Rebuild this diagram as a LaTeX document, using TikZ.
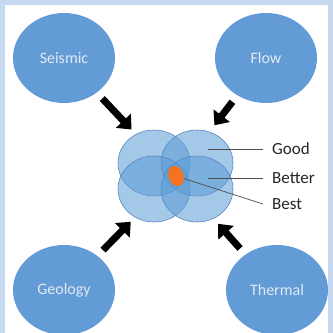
\documentclass[tikz,border=0pt]{standalone}
\usepackage{fontspec}
\setmainfont{Carlito}
\usetikzlibrary{arrows.meta,shapes.geometric}

\definecolor{frameblue}{RGB}{198,217,241}
\definecolor{discblue}{RGB}{98,155,213}
\definecolor{lobeblue}{RGB}{91,155,213}
\definecolor{lobeline}{RGB}{85,135,195}
\definecolor{blobfill}{RGB}{243,115,32}

\begin{document}
\begin{tikzpicture}[x=1pt,y=-1pt,
    disc/.style={ellipse, fill=discblue, minimum width=102pt, minimum height=90pt, inner sep=0pt,
      text={rgb,255:red,226;green,233;blue,242}, font=\fontsize{16}{19}\selectfont},
    lobe/.style={ellipse, draw=lobeline, line width=.6pt, fill=lobeblue, fill opacity=.55,
      minimum width=72pt, minimum height=66pt, inner sep=0pt},
    fatarrow/.style={line width=7pt, shorten <=8pt, shorten >=64pt, -{Triangle[length=12pt,width=20pt]}},
    tag/.style={anchor=west, inner xsep=9pt, inner ysep=0pt, text=black!85, font=\fontsize{17}{20}\selectfont},
    pointer/.style={draw=black!70, line width=.7pt},
  ]
  \useasboundingbox (0,0) rectangle (333,333);
  \clip (0,0) rectangle (333,333);
  \fill[frameblue] (0,0) rectangle (333,333);
  \fill[white] (5,5) rectangle (328,340);

  % the four sources
  \node[disc] (seismic) at (64,58)  {Seismic};
  \node[disc] (flow)    at (266,58) {Flow};
  \node[disc] (geology) at (64,290) {Geology};
  \node[disc] (thermal) at (277,290) {Thermal};

  % overlapping lobes in the middle
  \node[lobe] (lobeTL) at (154,163) {};
  \node[lobe] (lobeTR) at (197,163) {};
  \node[lobe] (lobeBL) at (154,189) {};
  \node[lobe] (lobeBR) at (197,189) {};
  \coordinate (core) at (175.5,176);
  \node[ellipse, fill=blobfill, minimum width=15pt, minimum height=21pt, inner sep=0pt, rotate=20] (blob) at (176,176) {};

  \foreach \src in {seismic,flow,geology,thermal}
    \draw[fatarrow] (\src) -- (core);

  % labels
  \node[tag] (good)   at (263,149) {Good};
  \node[tag] (better) at (263,178) {Better};
  \node[tag] (best)   at (263,204) {Best};
  \coordinate (goodpt)   at (208,149);
  \coordinate (betterpt) at (208,178);
  \draw[pointer] (goodpt) -- (good.west);
  \draw[pointer] (betterpt) -- (better.west);
  \draw[pointer] (blob) -- (best.west);
\end{tikzpicture}
\end{document}
